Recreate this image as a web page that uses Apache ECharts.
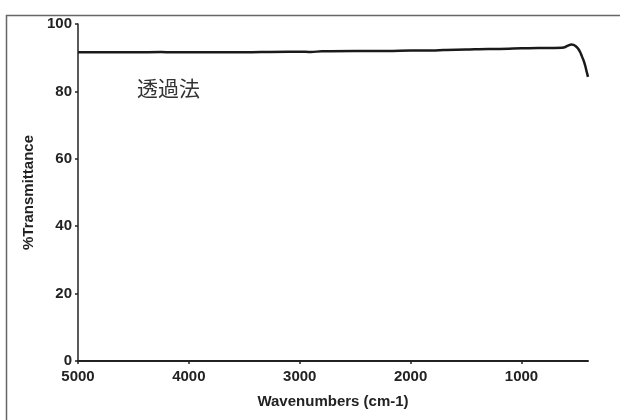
<!DOCTYPE html>
<html>
<head>
<meta charset="utf-8">
<script src="https://cdn.jsdelivr.net/npm/echarts@6/dist/echarts.min.js"></script>
<style>
html,body{margin:0;padding:0;background:#fff;}
#chart{width:620px;height:420px;}
</style>
</head>
<body>
<div id="chart"></div>
<script>
// Wavenumbers (cm-1) and %Transmittance
const wavenumbers = [5000, 4800, 4500, 4250, 4150, 4000, 3600, 3100, 3000, 2900, 2800, 2500, 2200, 2000, 1800, 1700, 1500, 1300, 1200, 1000, 850, 700, 620, 580, 550, 530, 510, 490, 470, 455, 440, 425, 410, 400];
const transmittance = [91.6, 91.6, 91.6, 91.7, 91.6, 91.6, 91.6, 91.8, 91.8, 91.7, 91.9, 92.0, 92.0, 92.1, 92.1, 92.3, 92.4, 92.6, 92.6, 92.8, 92.9, 92.9, 93.0, 93.6, 93.9, 93.8, 93.4, 92.7, 91.6, 90.4, 89.2, 87.6, 85.6, 84.3];
const xTicks = [1000, 2000, 3000, 4000, 5000];
const yTicks = [0, 20, 40, 60, 80, 100];
const annotation = '透過法';
const xName = 'Wavenumbers (cm-1)';
const yName = '%Transmittance';

const data = wavenumbers.map((w, i) => [w, transmittance[i]]);
const chart = echarts.init(document.getElementById('chart'));
const axisFont = {fontFamily: 'Liberation Sans, Arial, sans-serif', fontWeight: 'bold', fontSize: 15, color: '#222'};
chart.setOption({
  animation: false,
  backgroundColor: '#fff',
  grid: {left: 78, right: 32, top: 24, bottom: 59},
  xAxis: {
    type: 'value', inverse: true, min: 400, max: 5000,
    name: xName, nameLocation: 'middle', nameGap: 33,
    nameTextStyle: Object.assign({}, axisFont),
    axisLine: {show: true, onZero: false, lineStyle: {color: '#222', width: 2}},
    axisTick: {show: true, length: 3, customValues: xTicks, lineStyle: {color: '#222', width: 1.5}},
    axisLabel: Object.assign({customValues: xTicks, margin: 8, formatter: v => String(v)}, axisFont),
    splitLine: {show: false}
  },
  yAxis: {
    type: 'value', min: 0, max: 100, interval: 20,
    name: yName, nameLocation: 'middle', nameGap: 39, nameRotate: 90,
    nameTextStyle: Object.assign({}, axisFont),
    axisLine: {show: true, lineStyle: {color: '#222', width: 1.5}},
    axisTick: {show: true, length: 3, lineStyle: {color: '#222', width: 1.5}},
    axisLabel: Object.assign({margin: 6, customValues: yTicks, formatter: v => String(v)}, axisFont),
    splitLine: {show: false}
  },
  graphic: [
    {type: 'rect', left: 4, top: 13, shape: {width: 700, height: 500}, style: {fill: 'none', stroke: '#666', lineWidth: 1.5}, silent: true},
    {type: 'text', left: 137, top: 78, style: {text: annotation, fontFamily: 'Noto Sans CJK JP', fontSize: 21, fill: '#333'}}
  ],
  series: [{
    type: 'line', data: data, showSymbol: false, smooth: 0.3,
    lineStyle: {color: '#1a1a1a', width: 2.5}
  }]
});
</script>
</body>
</html>
